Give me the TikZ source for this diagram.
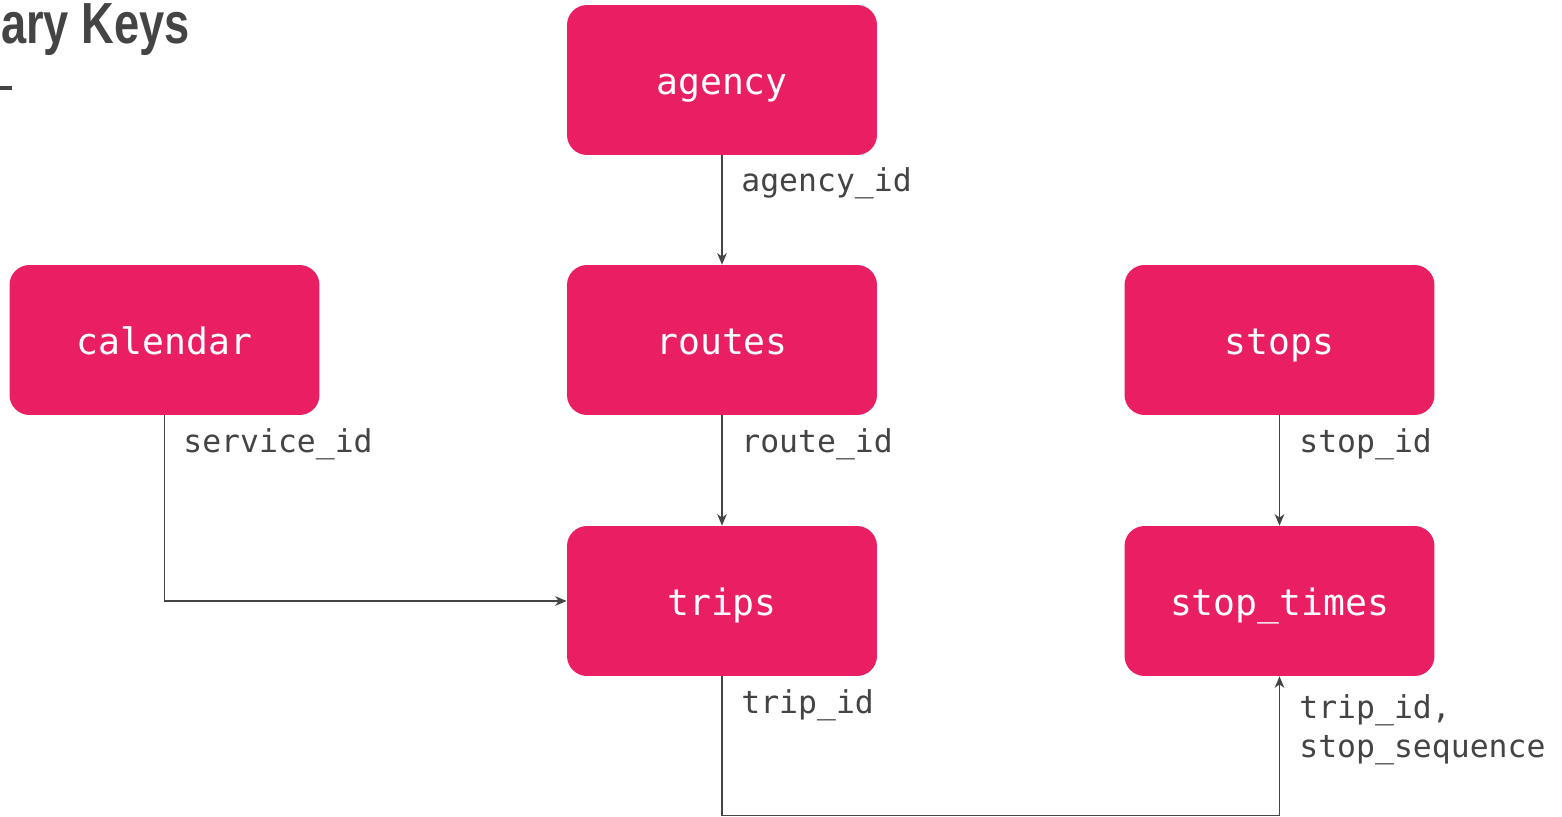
\documentclass[tikz,border=0pt]{standalone}
\usepackage{fontspec}
\usetikzlibrary{arrows.meta}
\setmonofont{DejaVu Sans Mono}
\newfontfamily\titlefont[FakeStretch=0.78]{Liberation Sans}
\definecolor{boxpink}{HTML}{E91E63}
\definecolor{ink}{HTML}{444444}
\begin{document}
\begin{tikzpicture}[x=0.02cm,y=-0.02cm,
  table/.style={draw=none,fill=boxpink,rounded corners=0.4cm,minimum width=6.2cm,minimum height=3cm,
    text=white,font=\ttfamily\fontsize{20.7}{24}\selectfont,text height=17pt,text depth=0pt,inner sep=0pt},
  conn/.style={draw=ink,line width=0.9pt,-{Stealth[length=6.5pt,width=5.4pt,inset=1.9pt]}},
  keylabel/.style={anchor=base west,text=ink,font=\ttfamily\fontsize{17.9}{22}\selectfont,inner sep=0pt}]
\useasboundingbox (0,0) rectangle (1562,817);
\clip (0,0) rectangle (1562,817);
\fill[white] (0,0) rectangle (1562,817);
% title (cut off on the left, as in the reference)
\node[anchor=base east,text=ink,inner sep=0pt,font=\titlefont\bfseries\fontsize{33}{36}\selectfont] (title) at (190,44) {Primary Keys};
\coordinate (dashA) at (-30,88);
\coordinate (dashB) at (12,88);
\draw[ink,line width=1.9pt] (dashA) -- (dashB);
% tables
\node[table] (agency) at (722,80) {agency};
\node[table] (calendar) at (164.5,340) {calendar};
\node[table] (routes) at (722,340) {routes};
\node[table] (stops) at (1279.5,340) {stops};
\node[table] (trips) at (722,601) {trips};
\node[table] (stoptimes) at (1279.5,601) {stop\_times};
% connectors
\draw[conn] (agency.south) -- (routes.north);
\draw[conn] (routes.south) -- (trips.north);
\draw[conn] (stops.south) -- (stoptimes.north);
\draw[conn] (calendar.south) |- (trips.west);
\coordinate (bend) at (722,815.5);
\draw[conn] (trips.south) -- (bend) -| (stoptimes.south);
% key labels
\node[keylabel] (lagency) at (741,192) {agency\_id};
\node[keylabel] (lroute) at (741,453) {route\_id};
\node[keylabel] (lservice) at (183,453) {service\_id};
\node[keylabel] (lstop) at (1299,453) {stop\_id};
\node[keylabel] (ltrip) at (741,713) {trip\_id};
\node[keylabel] (ltrip2) at (1299,718) {trip\_id,};
\node[keylabel] (lseq) at (1299,757) {stop\_sequence};
\end{tikzpicture}
\end{document}
